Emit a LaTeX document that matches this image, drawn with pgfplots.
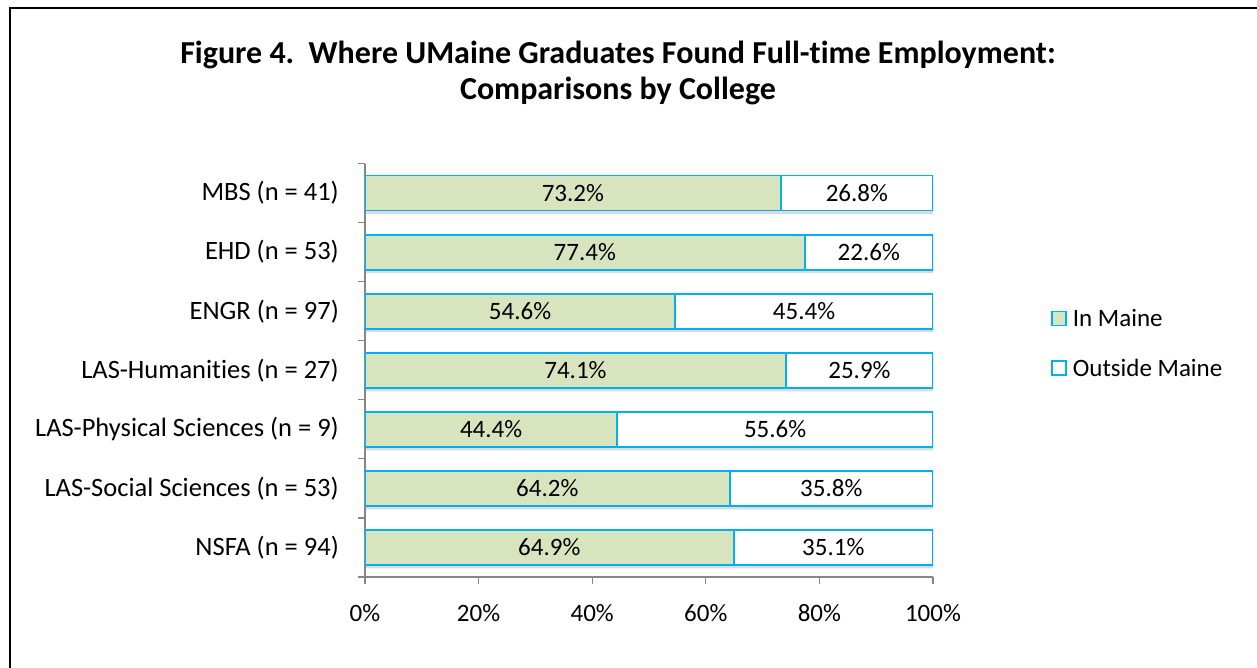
\documentclass[border=0pt]{standalone}
\usepackage{pgfplots}
\usepackage{pgfplotstable}
\pgfplotsset{compat=1.18}
\usepackage{fontspec}
\setmainfont[Ligatures=NoCommon]{Carlito}
\definecolor{inmaine}{RGB}{215,228,189}
\definecolor{edgeblue}{RGB}{0,176,240}
\definecolor{axgray}{RGB}{134,134,134}
\pgfplotsset{sqlegend/.style={legend image code/.code={\draw[line width=1.5bp,##1] (0bp,-7bp) rectangle (14bp,7bp);\path[draw=none,fill=none] (0bp,0bp) -- (19bp,0bp);}}}
\pgfplotstableread{
cat in out
0 73.2 26.8
1 77.4 22.6
2 54.6 45.4
3 74.1 25.9
4 44.4 55.6
5 64.2 35.8
6 64.9 35.1
}\data
\begin{document}
\begin{tikzpicture}
\useasboundingbox (0bp,0bp) rectangle (1257bp,-668bp);
\draw[line width=2bp] (10bp,-668bp) -- (10bp,-8bp) -- (1257bp,-8bp);
\node[font=\fontsize{32bp}{36bp}\selectfont\bfseries, align=center] at (618bp,-73bp) {Figure 4.\ \ Where UMaine Graduates Found Full-time Employment:\\Comparisons by College};
% shadow layer
\begin{axis}[
  at={(365bp,-577bp)}, anchor=south west,
  scale only axis, width=568bp, height=413.5bp,
  xmin=0, xmax=100, ymin=-0.5, ymax=6.5, y dir=reverse, hide axis,
]
\addplot[xbar, bar width=35bp, fill=black!14, draw=none, yshift=-3.5bp] table[x expr=\thisrow{in}+\thisrow{out}, y=cat] \data;
\end{axis}
\begin{axis}[
  at={(365bp,-577bp)}, anchor=south west,
  scale only axis, width=568bp, height=413.5bp,
  xbar stacked, bar width=35bp,
  xmin=0, xmax=100, ymin=-0.5, ymax=6.5, y dir=reverse,
  axis x line*=bottom, axis y line*=left,
  axis line style={axgray, line width=1.2bp},
  every tick/.style={axgray, line width=1.2bp},
  tick align=outside,
  xtick={0,20,...,100},
  minor xtick={0,20,...,100},
  xticklabel={\pgfmathprintnumber{\tick}\%},
  ytick={0,...,6},
  yticklabels={MBS (n = 41),EHD (n = 53),ENGR (n = 97),LAS-Humanities (n = 27),LAS-Physical Sciences (n = 9),LAS-Social Sciences (n = 53),NSFA (n = 94)},
  minor ytick={-0.5,0.5,...,6.5},
  major tick length=0bp, minor tick length=7bp,
  yticklabel style={inner sep=0pt, xshift=-26bp, font=\fontsize{26.5bp}{30bp}\selectfont},
  xticklabel style={inner sep=0pt, yshift=-27bp, font=\fontsize{25bp}{29bp}\selectfont},
  /pgf/number format/assume math mode=true,
  legend style={draw=none, at={(1.2076,0.565)}, anchor=west, font=\fontsize{25bp}{29bp}\selectfont, row sep=27bp, inner sep=0pt},
  legend cell align=left,
]
\addplot[fill=inmaine, draw=edgeblue, line width=1.8bp, sqlegend] table[x=in, y=cat] \data;
\addplot[fill=white, draw=edgeblue, line width=1.8bp, sqlegend] table[x=out, y=cat] \data;
\legend{In Maine, Outside Maine}
\end{axis}
% label layer
\begin{axis}[
  at={(365bp,-577bp)}, anchor=south west,
  scale only axis, width=568bp, height=413.5bp,
  xmin=0, xmax=100, ymin=-0.5, ymax=6.5, y dir=reverse, hide axis, clip=false,
  nodes near coords={\pgfmathprintnumber[fixed,precision=1,fixed zerofill]{\pgfplotspointmeta}\%},
  every node near coord/.style={anchor=center, font=\fontsize{25bp}{29bp}\selectfont, black},
  /pgf/number format/assume math mode=true,
]
\addplot[draw=none, mark=none, point meta=explicit] table[x expr=\thisrow{in}/2, y=cat, meta=in] \data;
\addplot[draw=none, mark=none, point meta=explicit] table[x expr=\thisrow{in}+\thisrow{out}/2, y=cat, meta=out] \data;
\end{axis}
\end{tikzpicture}
\end{document}
